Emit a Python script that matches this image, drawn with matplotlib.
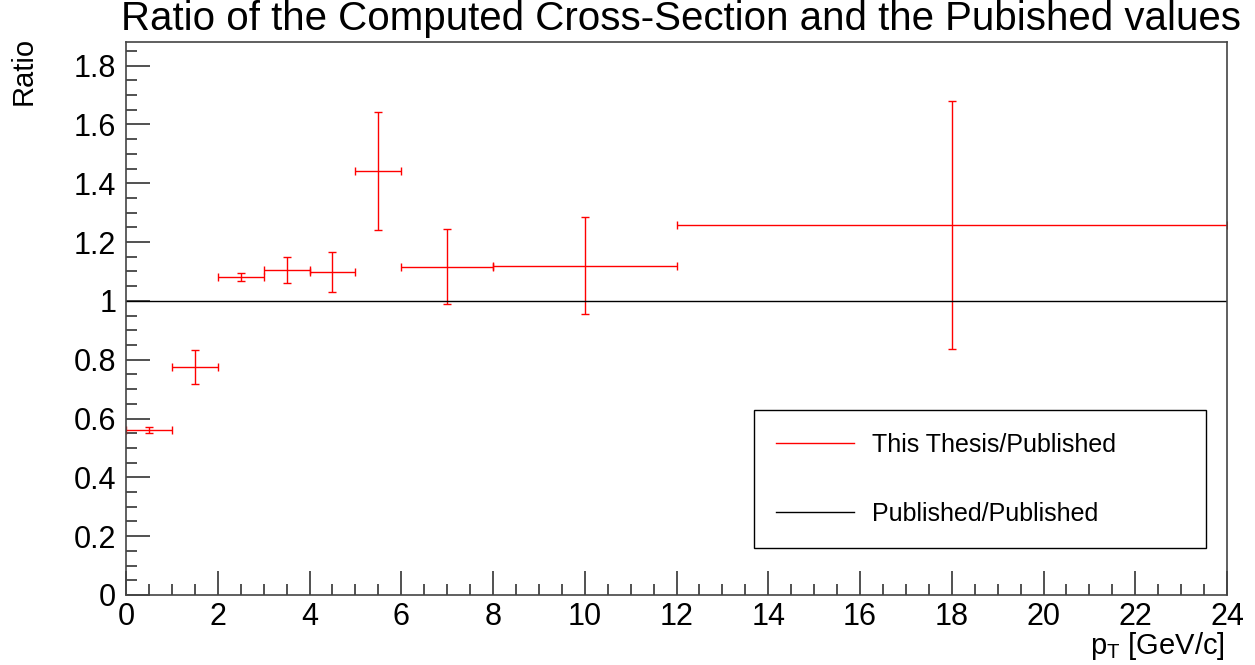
import matplotlib
matplotlib.use('Agg')
import matplotlib.pyplot as plt
from matplotlib.lines import Line2D
from matplotlib.ticker import MultipleLocator
import numpy as np

# bins in pT and the ratio values
pt_center = [0.5, 1.5, 2.5, 3.5, 4.5, 5.5, 7.0, 10.0, 18.0]
pt_halfwidth = [0.5, 0.5, 0.5, 0.5, 0.5, 0.5, 1.0, 2.0, 6.0]
ratio = [0.561, 0.776, 1.082, 1.105, 1.099, 1.442, 1.116, 1.119, 1.259]
ratio_err = [0.010, 0.058, 0.013, 0.045, 0.068, 0.200, 0.128, 0.165, 0.422]

plt.rcParams['font.family'] = ['Liberation Sans', 'DejaVu Sans']

fig = plt.figure(figsize=(12.55, 6.65), dpi=100)
ax = fig.add_axes([0.1004, 0.1053, 0.8773, 0.8315])

ax.errorbar(pt_center, ratio, xerr=pt_halfwidth, yerr=ratio_err, fmt='none',
            ecolor='red', elinewidth=1.0, capsize=3, capthick=1.0)
ax.axhline(1.0, color='black', lw=1.0)

ax.set_xlim(0, 24)
ax.set_ylim(0, 1.88)
ax.xaxis.set_major_locator(MultipleLocator(2))
ax.xaxis.set_minor_locator(MultipleLocator(0.5))
ax.yaxis.set_major_locator(MultipleLocator(0.2))
ax.yaxis.set_minor_locator(MultipleLocator(0.05))
ax.yaxis.set_major_formatter(plt.FuncFormatter(lambda v, p: '%g' % round(v, 2)))

ax.tick_params(which='both', direction='in', top=False, right=False,
               color='#333333', labelsize=22)
ax.tick_params(which='major', length=17, width=1.2)
ax.tick_params(which='minor', length=8, width=1.2)
ax.tick_params(axis='x', pad=5)
ax.tick_params(axis='y', pad=7)
for s in ax.spines.values():
    s.set_color('#444444')
    s.set_linewidth(1.2)

fig.text(0.5427, 1.0, 'Ratio of the Computed Cross-Section and the Pubished values',
         ha='center', va='top', fontsize=29)
fig.text(0.008, 0.945, 'Ratio', rotation=90, ha='left', va='top', fontsize=21)
fig.text(0.976, 0.005, r'p$_\mathregular{T}$ [GeV/c]', ha='right', va='bottom', fontsize=21)

handles = [Line2D([], [], color='red', lw=1.0), Line2D([], [], color='black', lw=1.0)]
leg = ax.legend(handles, ['This Thesis/Published', 'Published/Published'],
                bbox_to_anchor=(0.570, 0.081, 0.411, 0.257), loc='center left',
                mode='expand', fontsize=18, frameon=True, fancybox=False,
                edgecolor='black', framealpha=1, borderaxespad=0,
                labelspacing=1.8, handlelength=3.1, handletextpad=0.72,
                borderpad=0.9)
leg.get_frame().set_linewidth(1.0)

fig.savefig('out.png', dpi=100)
